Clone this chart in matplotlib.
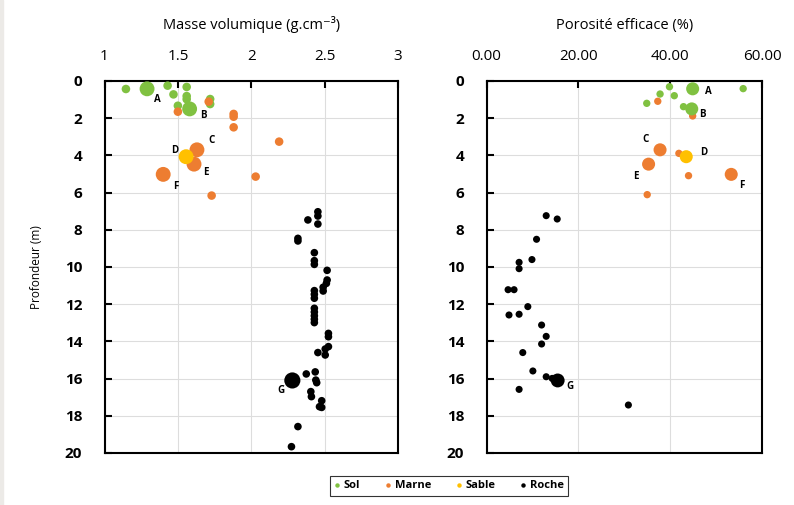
import matplotlib
matplotlib.use("Agg")
import matplotlib.pyplot as plt
from matplotlib.lines import Line2D
from matplotlib.patches import Rectangle

plt.rcParams['font.family'] = ['Open Sans', 'DejaVu Sans']

# couleurs des types de terrain
col_sol = '#80C141'
col_marne = '#ED7D31'
col_sable = '#FFC000'
col_roche = '#000000'

# échantillons étiquetés A-G
labels = ['A', 'B', 'C', 'D', 'E', 'F', 'G']
lab_type = ['Sol', 'Sol', 'Marne', 'Sable', 'Marne', 'Marne', 'Roche']
lab_depth = [0.42, 1.5, 3.7, 4.07, 4.47, 5.02, 16.1]
lab_rho = [1.29, 1.58, 1.63, 1.556, 1.61, 1.40, 2.28]
lab_por = [44.9, 44.7, 37.8, 43.5, 35.3, 53.3, 15.5]

# masse volumique (g/cm3)
sol_rho = [1.146, 1.43, 1.47, 1.56, 1.56, 1.56, 1.50, 1.72, 1.72]
sol_rho_z = [0.43, 0.25, 0.72, 0.32, 0.81, 0.98, 1.33, 0.97, 1.24]
marne_rho = [1.71, 1.50, 1.88, 1.88, 1.88, 2.19, 2.03, 1.73]
marne_rho_z = [1.11, 1.65, 1.77, 1.92, 2.49, 3.26, 5.14, 6.16]
roche_rho = [2.454, 2.454, 2.386, 2.454, 2.318, 2.318, 2.43, 2.43, 2.43, 2.517,
             2.517, 2.512, 2.49, 2.49, 2.43, 2.43, 2.43, 2.43, 2.43, 2.43,
             2.43, 2.43, 2.526, 2.526, 2.526, 2.504, 2.454, 2.504, 2.436, 2.375,
             2.44, 2.446, 2.406, 2.41, 2.48, 2.465, 2.48, 2.318, 2.274]
roche_rho_z = [7.03, 7.26, 7.47, 7.69, 8.46, 8.6, 9.23, 9.66, 9.86, 10.18,
               10.7, 10.88, 11.09, 11.29, 11.27, 11.47, 11.68, 12.22, 12.42, 12.62,
               12.81, 12.99, 13.57, 13.75, 14.28, 14.41, 14.6, 14.73, 15.64, 15.75,
               16.08, 16.22, 16.7, 16.97, 17.19, 17.51, 17.55, 18.58, 19.66]

# porosité efficace (%)
sol_por = [39.85, 37.8, 40.9, 34.9, 55.9, 42.9]
sol_por_z = [0.31, 0.70, 0.79, 1.2, 0.41, 1.38]
marne_por = [37.3, 44.9, 41.9, 44.0, 35.0]
marne_por_z = [1.09, 1.88, 3.89, 5.09, 6.11]
roche_por = [13.0, 15.4, 10.9, 9.9, 7.1, 7.1, 4.7, 6.0, 9.0, 4.9,
             7.1, 12.0, 13.0, 12.0, 7.9, 10.1, 13.0, 14.3, 7.1, 30.9]
roche_por_z = [7.24, 7.42, 8.51, 9.6, 9.75, 10.09, 11.22, 11.22, 12.13, 12.58,
               12.54, 13.12, 13.73, 14.14, 14.6, 15.59, 15.9, 15.99, 16.58, 17.42]

colors = {'Sol': col_sol, 'Marne': col_marne, 'Sable': col_sable, 'Roche': col_roche}

fig = plt.figure(figsize=(7.94, 5.05), dpi=100)
fig.patches.append(Rectangle((0, 0), 3 / 794, 1, transform=fig.transFigure,
                             color='#ECEAE7', zorder=0))

ax1 = fig.add_axes([104.5 / 794, 1 - 453 / 505, 293.5 / 794, 372 / 505])
ax2 = fig.add_axes([486.5 / 794, 1 - 453 / 505, 275.5 / 794, 372 / 505])


def habiller(ax, xmin, xmax, xticks, fmt, titre):
    ax.set_xlim(xmin, xmax)
    ax.set_ylim(20, 0)
    ax.set_xticks(xticks)
    ax.set_xticklabels([fmt(t) for t in xticks], fontsize=11)
    ax.set_yticks(range(0, 21, 2))
    ax.set_yticklabels([str(t) for t in range(0, 21, 2)], fontsize=11, fontweight='bold')
    ax.xaxis.tick_top()
    ax.tick_params(axis='x', direction='in', length=5, width=1.5, pad=12)
    ax.tick_params(axis='y', direction='in', length=5, width=1.5, pad=16)
    ax.xaxis.set_label_position('top')
    ax.set_xlabel(titre, fontsize=10.5, labelpad=15)
    ax.grid(True, color='#DDDDDD', linewidth=0.8)
    ax.set_axisbelow(True)
    for sp in ax.spines.values():
        sp.set_linewidth(1.5)
        sp.set_color('black')


habiller(ax1, 1, 3, [1, 1.5, 2, 2.5, 3], lambda t: f'{t:g}', 'Masse volumique (g.cm⁻³)')
habiller(ax2, 0, 60, [0, 20, 40, 60], lambda t: f'{t:.2f}', 'Porosité efficace (%)')
ax1.set_ylabel('Profondeur (m)', fontsize=8.5, labelpad=16)

# masse volumique
ax1.scatter(sol_rho, sol_rho_z, s=38, color=col_sol, edgecolors='none', zorder=3)
ax1.scatter(marne_rho, marne_rho_z, s=38, color=col_marne, edgecolors='none', zorder=3)
ax1.scatter(roche_rho, roche_rho_z, s=30, color=col_roche, edgecolors='none', zorder=3)

# porosité
ax2.scatter(sol_por, sol_por_z, s=28, color=col_sol, edgecolors='none', zorder=3)
ax2.scatter(marne_por, marne_por_z, s=28, color=col_marne, edgecolors='none', zorder=3)
ax2.scatter(roche_por, roche_por_z, s=26, color=col_roche, edgecolors='none', zorder=3)

# gros points étiquetés
off1 = [(7.6, -7.4), (9.6, -4.8), (10.8, 7), (-8.4, 4.8), (8.6, -5.8), (9.1, -8.6), (-7.9, -7.2)]
off2 = [(11.2, -2.2), (7.9, -4.1), (-10.8, 7.7), (12.5, 2.9), (-9.4, -9.1), (7.7, -7.9), (9.1, -4.3)]
for i, lab in enumerate(labels):
    c = colors[lab_type[i]]
    s1 = 135 if lab == 'G' else 115
    s2 = 100 if lab == 'G' else 88
    z = 5 if lab_type[i] == 'Sable' else 4
    ax1.scatter(lab_rho[i], lab_depth[i], s=s1, color=c, edgecolors='none', zorder=z)
    ax2.scatter(lab_por[i], lab_depth[i], s=s2, color=c, edgecolors='none', zorder=z)
    ax1.annotate(lab, (lab_rho[i], lab_depth[i]), xytext=off1[i], textcoords='offset points',
                 ha='center', va='center', fontsize=7, fontweight='bold', zorder=6)
    ax2.annotate(lab, (lab_por[i], lab_depth[i]), xytext=off2[i], textcoords='offset points',
                 ha='center', va='center', fontsize=7, fontweight='bold', zorder=6)

handles = [Line2D([], [], linestyle='none', marker='o', markersize=3.2,
                  markerfacecolor=colors[k], markeredgecolor='none', label=k)
           for k in ['Sol', 'Marne', 'Sable', 'Roche']]
leg = fig.legend(handles=handles, ncol=4, loc='center', bbox_to_anchor=(449 / 794, 1 - 486 / 505),
                 frameon=True, fancybox=False, edgecolor='black', handlelength=0.6,
                 handletextpad=0.3, columnspacing=2.2, borderpad=0.4,
                 prop={'weight': 'bold', 'size': 8})
leg.get_frame().set_linewidth(0.8)

fig.savefig('out.png', dpi=100)
